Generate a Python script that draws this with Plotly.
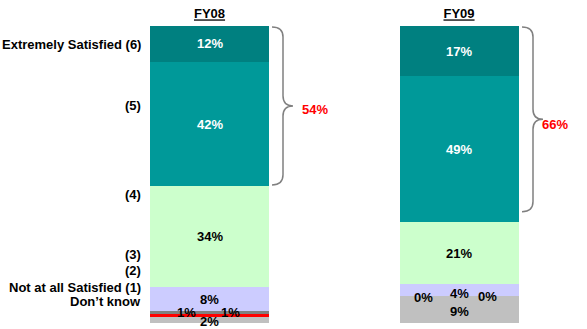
import plotly.graph_objects as go

years = ["FY08", "FY09"]
levels = ["Don't know", "Not at all Satisfied (1)", "(2)", "(3)", "(4)", "(5)", "Extremely Satisfied (6)"]
values = {
    "Don't know": [2, 9],
    "Not at all Satisfied (1)": [1, 0],
    "(2)": [1, 0],
    "(3)": [8, 4],
    "(4)": [34, 21],
    "(5)": [42, 49],
    "Extremely Satisfied (6)": [12, 17],
}
top_box = [54, 66]

colors = {
    "Don't know": "#C0C0C0",
    "Not at all Satisfied (1)": "#FF0000",
    "(2)": "#808080",
    "(3)": "#CCCCFF",
    "(4)": "#CCFFCC",
    "(5)": "#009999",
    "Extremely Satisfied (6)": "#008080",
}
text_colors = {k: ("white" if k in ("(5)", "Extremely Satisfied (6)") else "black") for k in levels}
FONT = "Liberation Sans, Arial, sans-serif"

W, H = 587, 329
fig = go.Figure()
for lv in levels:
    fig.add_trace(go.Bar(
        x=years, y=values[lv], name=lv,
        marker=dict(color=colors[lv], line=dict(width=0)),
        width=0.477, showlegend=False, hoverinfo="skip",
    ))

# segment labels (offsets for tiny segments)
shift = {
    "Don't know": [(0, -1), (0, -2)],
    "Not at all Satisfied (1)": [(21, 3), (28, 0)],
    "(2)": [(-23, 0), (-36, -1)],
    "(3)": [(0, 0), (0, -3)],
}
annotations = []
for i, yr in enumerate(years):
    base = 0
    for lv in levels:
        v = values[lv][i]
        mid = base + v / 2
        base += v
        dx, dy = shift.get(lv, [(0, 0), (0, 0)])[i]
        annotations.append(dict(
            x=yr, y=mid, xref="x", yref="y", text=f"{v}%", showarrow=False,
            xshift=dx, yshift=dy, borderpad=0,
            font=dict(family=FONT, size=13, color=text_colors[lv], weight="bold"),
        ))

# left-side scale labels
left_labels = [
    ("Extremely Satisfied (6)", 93.9),
    ("(5)", 73.4),
    ("(4)", 43.1),
    ("(3)", 23.2),
    ("(2)", 17.8),
    ("Not at all Satisfied (1)", 12.1),
    ("Don\u2019t know", 7.4),
]
for txt, yy in left_labels:
    annotations.append(dict(
        x=143 / W, y=yy, xref="paper", yref="y", text=txt, showarrow=False,
        xanchor="right", font=dict(family=FONT, size=13, color="black", weight="bold"),
    ))

# braces
def brace(x0, xv, xt, top, bot, r=3.4):
    mid = (top + bot) / 2
    p = lambda x: x / W
    return (f"M {p(x0)},{top} Q {p(xv)},{top} {p(xv)},{top - r} "
            f"L {p(xv)},{mid + r} Q {p(xv)},{mid} {p(xt)},{mid} "
            f"Q {p(xv)},{mid} {p(xv)},{mid - r} "
            f"L {p(xv)},{bot + r} Q {p(xv)},{bot} {p(x0)},{bot}")

shapes = []
brace_px = [(272, 283, 293, 99.7, 46.5), (522, 533, 543, 99.7, 37.5)]
label_px = [(315, 72.0), (570, 67.0)]
for i in range(2):
    x0, xv, xt, tp, bt = brace_px[i]
    shapes.append(dict(type="path", xref="paper", yref="y", path=brace(x0, xv, xt, tp, bt),
                       line=dict(color="#808080", width=1.5)))
    lx, ly = label_px[i]
    annotations.append(dict(
        x=lx / W, y=ly, xref="paper", yref="y", text=f"{top_box[i]}%", showarrow=False,
        font=dict(family=FONT, size=13, color="#FF0000", weight="bold"),
    ))

fig.update_layout(
    barmode="stack",
    width=W, height=H,
    margin=dict(l=0, r=0, t=26, b=6),
    plot_bgcolor="white", paper_bgcolor="white",
    annotations=annotations, shapes=shapes,
    xaxis=dict(type="category", range=[-0.8397, 1.513], side="top",
               tickvals=years, ticktext=[f"<u>{y}</u>" for y in years],
               tickfont=dict(family=FONT, size=13, color="black", weight="bold"),
               ticklabelstandoff=4,
               showgrid=False, zeroline=False, showline=False, ticks=""),
    yaxis=dict(range=[0, 100], visible=False, showgrid=False, zeroline=False),
)
fig.write_html("out.html")
